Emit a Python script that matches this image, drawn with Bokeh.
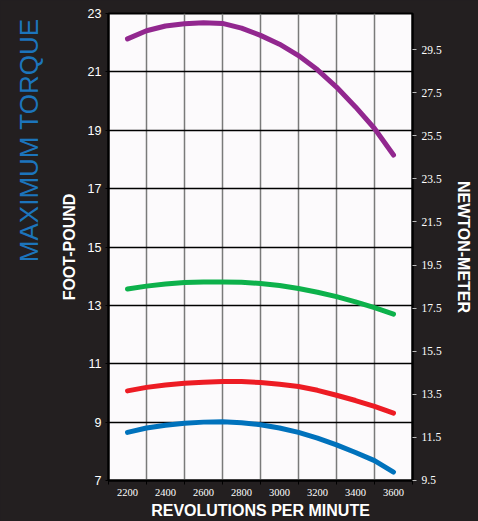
from bokeh.plotting import figure
from bokeh.models import LinearAxis, Range1d, FixedTicker, Title
from bokeh.embed import file_html
from bokeh.resources import INLINE

# ---- data (foot-pound) ----
rpm = [2200, 2300, 2400, 2500, 2600, 2700, 2800, 2900, 3000, 3100, 3200, 3300, 3400, 3500, 3600]
torque_purple = [22.13, 22.41, 22.57, 22.65, 22.68, 22.66, 22.50, 22.25, 21.95, 21.56, 21.07, 20.48, 19.80, 19.06, 18.15]
torque_green = [13.56, 13.66, 13.73, 13.78, 13.80, 13.80, 13.79, 13.75, 13.68, 13.58, 13.45, 13.30, 13.12, 12.92, 12.70]
torque_red = [10.07, 10.19, 10.27, 10.33, 10.37, 10.39, 10.39, 10.36, 10.30, 10.22, 10.09, 9.92, 9.74, 9.54, 9.31]
torque_blue = [8.65, 8.80, 8.89, 8.96, 9.00, 9.01, 8.98, 8.91, 8.80, 8.65, 8.45, 8.22, 7.96, 7.68, 7.29]
series_colors = ["#92278f", "#0db14b", "#ed1c24", "#0072bc"]

rpm_labels = [2200, 2400, 2600, 2800, 3000, 3200, 3400, 3600]
rpm_grid = [2100, 2300, 2500, 2700, 2900, 3100, 3300, 3500, 3700]
ftlb_ticks = [7, 9, 11, 13, 15, 17, 19, 21, 23]
nm_ticks = [9.5, 11.5, 13.5, 15.5, 17.5, 19.5, 21.5, 23.5, 25.5, 27.5, 29.5]
FTLB_TO_NM = 1.35582

BG = "#231f20"
FONT = "Liberation Sans"
NARROW = "Liberation Sans Narrow"

p = figure(width=478, height=521,
           x_range=Range1d(2100, 3700), y_range=Range1d(7, 23),
           output_backend="svg", toolbar_location=None,
           min_border_left=108, min_border_right=66,
           min_border_top=13, min_border_bottom=40,
           background_fill_color="#fcfafc", border_fill_color=BG,
           outline_line_color="black", outline_line_width=2)

# x axis
xt = FixedTicker(ticks=rpm_labels, minor_ticks=rpm_grid)
xa = p.xaxis[0]
xa.ticker = xt
xa.axis_label = "REVOLUTIONS PER MINUTE"
xa.axis_label_text_font = FONT
xa.axis_label_text_font_style = "bold"
xa.axis_label_text_font_size = "16px"
xa.axis_label_text_color = "white"
xa.axis_label_standoff = 3
xa.major_label_text_font = NARROW
xa.major_label_text_font_size = "10.5px"
xa.major_label_text_color = "white"
xa.major_label_standoff = 4
xa.major_tick_out = 0
xa.major_tick_in = 0
xa.minor_tick_out = 4
xa.minor_tick_in = 0
xa.minor_tick_line_color = "black"
xa.axis_line_color = "black"
xa.axis_line_width = 2

p.xgrid.ticker = xt
p.xgrid.grid_line_color = None
p.xgrid.minor_grid_line_color = "#7a7a7a"
p.xgrid.minor_grid_line_width = 1.5

# left axis (foot-pound)
yt = FixedTicker(ticks=ftlb_ticks, minor_ticks=[])
ya = p.yaxis[0]
ya.ticker = yt
ya.axis_label = "FOOT-POUND"
ya.axis_label_text_font = FONT
ya.axis_label_text_font_style = "bold"
ya.axis_label_text_font_size = "16px"
ya.axis_label_text_color = "white"
ya.axis_label_standoff = 7
ya.major_label_text_font = FONT
ya.major_label_text_font_size = "12.5px"
ya.major_label_text_color = "white"
ya.major_label_standoff = 4
ya.major_tick_out = 3
ya.major_tick_in = 0
ya.minor_tick_out = 0
ya.minor_tick_in = 0
ya.major_tick_line_color = "black"
ya.axis_line_color = "black"
ya.axis_line_width = 2

p.ygrid.ticker = yt
p.ygrid.grid_line_color = "black"
p.ygrid.grid_line_width = 1.5

# right axis (newton-meter)
p.extra_y_ranges = {"nm": Range1d(7 * FTLB_TO_NM, 23 * FTLB_TO_NM)}
ra = LinearAxis(y_range_name="nm", ticker=FixedTicker(ticks=nm_ticks, minor_ticks=[]),
                axis_label="NEWTON-METER")
ra.axis_label_text_font = FONT
ra.axis_label_text_font_style = "bold"
ra.axis_label_text_font_size = "16px"
ra.axis_label_text_color = "white"
ra.axis_label_standoff = 10
ra.major_label_text_font = NARROW
ra.major_label_text_font_size = "11.5px"
ra.major_label_text_color = "white"
ra.major_label_standoff = 5
ra.major_tick_out = 4
ra.major_tick_in = 0
ra.minor_tick_out = 0
ra.minor_tick_in = 0
ra.major_tick_line_color = "#bbbbbb"
ra.axis_line_color = "black"
ra.axis_line_width = 2
p.add_layout(ra, "right")

# torque curves
for vals, col in zip([torque_purple, torque_green, torque_red, torque_blue], series_colors):
    p.line(rpm, vals, line_color=col, line_width=5, line_cap="round", line_join="round")

# big side title
title = Title(text="MAXIMUM TORQUE", align="right", vertical_align="top", offset=5, standoff=24,
              text_font=FONT, text_font_size="26px", text_font_style="normal",
              text_color="#1c75bc")
p.add_layout(title, "left")

html = file_html(p, INLINE, title="Maximum torque")
html = html.replace("</head>",
                    "<style>html,body{margin:0;padding:0;background:%s;overflow:hidden;}</style></head>" % BG, 1)
open("out.html", "w").write(html)
